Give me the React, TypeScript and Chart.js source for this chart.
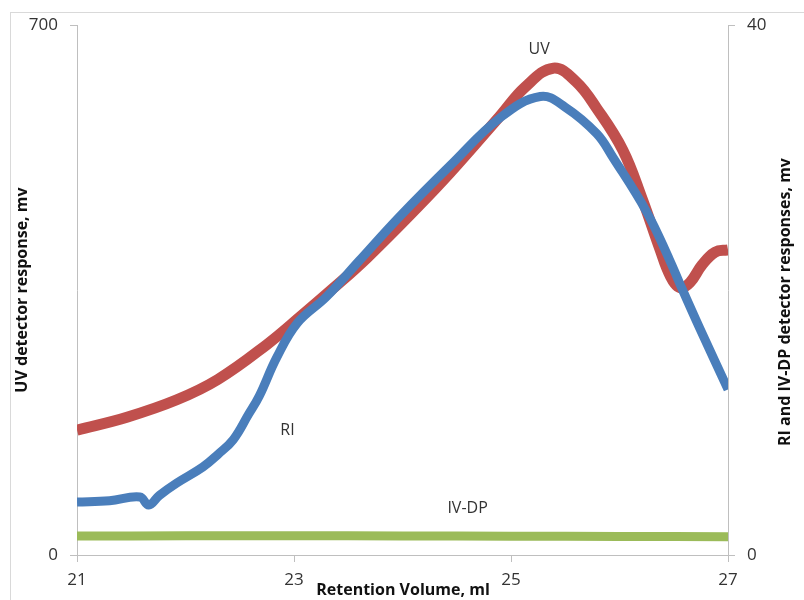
import React, { useEffect, useRef } from "react";
import { Chart, registerables } from "chart.js";

Chart.register(...registerables);

// Retention volume (ml) and detector responses
const uvVolume = [21.0, 21.46, 21.92, 22.3, 22.75, 23.06, 23.36, 23.67, 24.13, 24.44, 24.9, 25.13, 25.39, 25.6, 25.79, 26.03, 26.21, 26.37, 26.47, 26.56, 26.65, 26.76, 26.88, 27.0];
const uvResponse = [165, 182, 205, 232, 278, 315, 352, 392, 458, 505, 580, 618, 643, 625, 590, 535, 470, 405, 368, 353, 360, 383, 400, 403];

const riVolume = [21.0, 21.3, 21.58, 21.66, 21.76, 21.92, 22.16, 22.3, 22.44, 22.58, 22.68, 22.84, 23.03, 23.3, 23.6, 23.98, 24.44, 24.9, 25.27, 25.5, 25.79, 25.94, 26.25, 26.46, 26.56, 26.74, 27.0];
const riResponse = [4.0, 4.1, 4.38, 3.77, 4.5, 5.43, 6.64, 7.6, 8.7, 10.6, 12.0, 14.9, 17.5, 19.5, 22.2, 25.6, 29.4, 33.0, 34.6, 33.8, 31.8, 30.0, 25.9, 22.3, 20.4, 17.1, 12.5];

const ivVolume = [21, 22, 23, 24, 25, 26, 27];
const ivResponse = [1.43, 1.45, 1.45, 1.44, 1.42, 1.4, 1.38];

const xTicks = [21, 23, 25, 27];
const uvTicks = [0, 700];
const riTicks = [0, 40];

const FONT = "'Open Sans', 'Liberation Sans', sans-serif";
const AXIS_COLOR = "#bfbfbf";
const TEXT_COLOR = "#333333";

const toPoints = (xs: number[], ys: number[]) => xs.map((x, i) => ({ x, y: ys[i] }));

const decorations = {
  id: "decorations",
  afterDraw(chart: Chart) {
    const ctx = chart.ctx;
    const xs = chart.scales.x;
    const yl = chart.scales.yUV;
    const yr = chart.scales.yRI;
    ctx.save();
    // outer frame
    ctx.strokeStyle = "#d9d9d9";
    ctx.lineWidth = 1;
    ctx.strokeRect(10.5, 12.5, 1000, 1000);

    ctx.fillStyle = "#111111";
    ctx.font = `bold 16px ${FONT}`;
    ctx.textAlign = "center";
    ctx.textBaseline = "middle";
    // left axis title
    ctx.save();
    ctx.translate(22, 290);
    ctx.rotate(-Math.PI / 2);
    ctx.fillText("UV detector response, mv", 0, 0);
    ctx.restore();
    // right axis title
    ctx.save();
    ctx.translate(785, 302);
    ctx.rotate(-Math.PI / 2);
    ctx.fillText("RI and IV-DP detector responses, mv", 0, 0);
    ctx.restore();
    // x axis title
    ctx.fillText("Retention Volume, ml", 403, 590);

    // series labels
    ctx.fillStyle = TEXT_COLOR;
    ctx.font = `16px ${FONT}`;
    ctx.fillText("UV", xs.getPixelForValue(25.26), yl.getPixelForValue(668));
    ctx.fillText("RI", xs.getPixelForValue(22.94), yr.getPixelForValue(9.4));
    ctx.fillText("IV-DP", xs.getPixelForValue(24.6), yr.getPixelForValue(3.55));
    ctx.restore();
  },
};

export default function App() {
  const canvasRef = useRef<HTMLCanvasElement | null>(null);

  useEffect(() => {
    document.body.style.margin = "0";
    const canvas = canvasRef.current;
    if (!canvas) return;
    const chart = new Chart(canvas, {
      type: "line",
      data: {
        datasets: [
          {
            label: "RI",
            data: toPoints(riVolume, riResponse),
            yAxisID: "yRI",
            borderColor: "#4a7ebb",
            borderWidth: 9,
            pointRadius: 0,
            tension: 0.4,
            fill: false,
          },
          {
            label: "UV",
            data: toPoints(uvVolume, uvResponse),
            yAxisID: "yUV",
            borderColor: "#c0504d",
            borderWidth: 11,
            pointRadius: 0,
            tension: 0.4,
            fill: false,
          },
          {
            label: "IV-DP",
            data: toPoints(ivVolume, ivResponse),
            yAxisID: "yRI",
            borderColor: "#9bbb59",
            borderWidth: 9,
            pointRadius: 0,
            tension: 0.4,
            fill: false,
          },
        ],
      },
      options: {
        responsive: false,
        animation: false,
        layout: { padding: { top: 25, left: 0, right: 0, bottom: 0 } },
        plugins: { legend: { display: false }, tooltip: { enabled: false } },
        scales: {
          x: {
            type: "linear",
            min: 21,
            max: 27,
            afterFit: (s: any) => { s.height = 45; },
            afterBuildTicks: (s: any) => { s.ticks = xTicks.map((v) => ({ value: v })); },
            ticks: { color: TEXT_COLOR, font: { family: FONT, size: 17 }, padding: 8, maxRotation: 0 },
            grid: { drawOnChartArea: false, tickLength: 7, color: AXIS_COLOR },
            border: { color: AXIS_COLOR },
          },
          yUV: {
            type: "linear",
            position: "left",
            min: 0,
            max: 700,
            afterFit: (s: any) => { s.width = 77; },
            afterBuildTicks: (s: any) => { s.ticks = uvTicks.map((v) => ({ value: v })); },
            ticks: { color: TEXT_COLOR, font: { family: FONT, size: 17 }, padding: 12 },
            grid: { drawOnChartArea: false, tickLength: 7, color: AXIS_COLOR },
            border: { color: AXIS_COLOR },
          },
          yRI: {
            type: "linear",
            position: "right",
            min: 0,
            max: 40,
            afterFit: (s: any) => { s.width = 76; },
            afterBuildTicks: (s: any) => { s.ticks = riTicks.map((v) => ({ value: v })); },
            ticks: { color: TEXT_COLOR, font: { family: FONT, size: 17 }, padding: 12 },
            grid: { drawOnChartArea: false, tickLength: 7, color: AXIS_COLOR },
            border: { color: AXIS_COLOR },
          },
        },
      },
      plugins: [decorations],
    });
    return () => chart.destroy();
  }, []);

  return (
    <div style={{ position: "absolute", left: 0, top: 0, width: 804, height: 600, background: "#fff" }}>
      <canvas ref={canvasRef} width={804} height={600} />
    </div>
  );
}
